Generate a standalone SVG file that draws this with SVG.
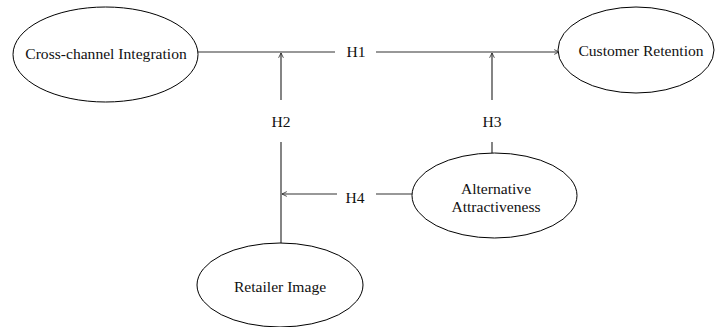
<svg xmlns="http://www.w3.org/2000/svg" width="715" height="327" viewBox="0 0 715 327">
<defs>
<marker id="arr" viewBox="0 0 10 10" refX="9" refY="5" markerWidth="6" markerHeight="6" orient="auto" markerUnits="userSpaceOnUse">
<path d="M1,1 L9,5 L1,9" fill="none" stroke="#222" stroke-width="1.3"/>
</marker>
<style>
.node ellipse{fill:#fff;stroke:#000;stroke-width:1}
text{font-family:"Liberation Serif","Times New Roman",serif;font-size:15.6px;fill:#111;text-anchor:middle;dominant-baseline:central}
.edge{fill:none;stroke:#333;stroke-width:1.2}
</style>
</defs>
<rect width="715" height="327" fill="#fff"/>
<g id="connectors">
<line class="edge" x1="198" y1="52" x2="335" y2="52"/>
<line class="edge" x1="376" y1="52" x2="559" y2="52" marker-end="url(#arr)"/>
<text x="356" y="51">H1</text>
<line class="edge" x1="281" y1="243" x2="281" y2="142"/>
<line class="edge" x1="281" y1="100" x2="281" y2="53" marker-end="url(#arr)"/>
<text x="281" y="121">H2</text>
<line class="edge" x1="492" y1="154" x2="492" y2="142"/>
<line class="edge" x1="492" y1="100" x2="492" y2="53" marker-end="url(#arr)"/>
<text x="492" y="121">H3</text>
<line class="edge" x1="412" y1="194" x2="376" y2="194"/>
<line class="edge" x1="337" y1="194" x2="282" y2="194" marker-end="url(#arr)"/>
<text x="355" y="197">H4</text>
</g>
<g id="cross-channel" class="node">
<ellipse cx="105.5" cy="54.5" rx="92.5" ry="47.5"/>
<text x="106" y="53">Cross-channel Integration</text>
</g>
<g id="customer-retention" class="node">
<ellipse cx="636" cy="50" rx="78" ry="43"/>
<text x="641" y="50">Customer Retention</text>
</g>
<g id="alternative" class="node">
<ellipse cx="494.5" cy="195.5" rx="82.5" ry="42.5"/>
<text x="496" y="188">Alternative</text>
<text x="496" y="206">Attractiveness</text>
</g>
<g id="retailer-image" class="node">
<ellipse cx="280" cy="285" rx="83" ry="42"/>
<text x="280" y="286">Retailer Image</text>
</g>
</svg>
